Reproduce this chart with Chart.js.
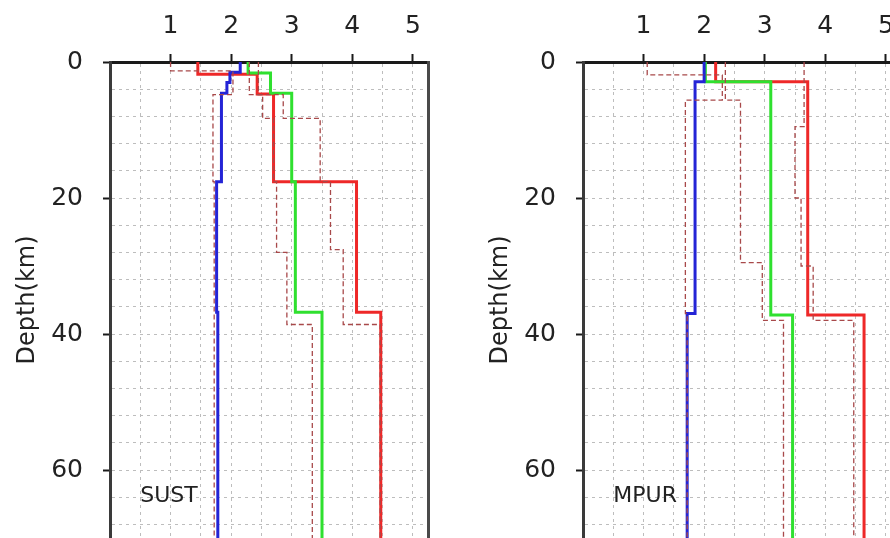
<!DOCTYPE html>
<html>
<head>
<meta charset="utf-8">
<script src="https://cdn.jsdelivr.net/npm/chart.js@4.4.1/dist/chart.umd.min.js"></script>
<style>
  html, body { margin: 0; padding: 0; background: #fff; }
  body { width: 890px; height: 538px; overflow: hidden; position: relative; }
  .panel { position: absolute; top: 0; width: 445px; height: 538px; }
</style>
</head>
<body>
<div class="panel" style="left:0"><canvas id="sust"></canvas></div>
<div class="panel" style="left:473px"><canvas id="mpur"></canvas></div>
<script>
// Velocity-depth profiles (km/s vs km)

const depthMax = 70;
const velMax = 5.25;
const xTickValues = [0, 0.5, 1, 1.5, 2, 2.5, 3, 3.5, 4, 4.5, 5];
const xTickLabels = [1, 2, 3, 4, 5];
const yTickValues = [0, 4, 8, 12, 16, 20, 24, 28, 32, 36, 40, 44, 48, 52, 56, 60, 64, 68];
const yTickLabels = [0, 20, 40, 60];

// SUST - layer tops (km) and velocities (km/s)
const sustBlueTop = [0, 1.5, 3.0, 4.6, 17.6, 36.8];
const sustBlueVel = [2.15, 1.98, 1.93, 1.84, 1.76, 1.78];
const sustGreenTop = [0, 1.6, 4.6, 17.6, 36.8];
const sustGreenVel = [2.28, 2.65, 3.0, 3.06, 3.5];
const sustRedTop = [0, 1.8, 4.7, 17.6, 36.8];
const sustRedVel = [1.45, 2.43, 2.7, 4.07, 4.47];
const sustDash1Top = [0, 1.3, 4.8, 17.6];
const sustDash1Vel = [1.0, 2.03, 1.70, 1.72];
const sustDash2Top = [0, 4.8, 8.3, 17.6, 28.0, 38.6];
const sustDash2Vel = [2.3, 2.52, 2.7, 2.75, 2.92, 3.34];
const sustDash3Top = [0, 4.8, 8.3, 17.6, 27.6, 38.6];
const sustDash3Vel = [2.45, 2.86, 3.47, 3.64, 3.85, 4.46];

// MPUR
const mpurBlueTop = [0, 2.9, 37.0];
const mpurBlueVel = [2.0, 1.85, 1.72];
const mpurGreenTop = [0, 2.9, 37.2];
const mpurGreenVel = [2.02, 3.1, 3.46];
const mpurRedTop = [0, 2.9, 37.2];
const mpurRedVel = [2.19, 3.71, 4.64];
const mpurDash1Top = [0, 1.9, 5.6, 37.0];
const mpurDash1Vel = [1.06, 2.3, 1.69, 1.72];
const mpurDash2Top = [0, 5.6, 29.5, 38.0];
const mpurDash2Vel = [2.35, 2.6, 2.96, 3.31];
const mpurDash3Top = [0, 9.5, 20.0, 30.0, 38.0];
const mpurDash3Vel = [3.65, 3.5, 3.6, 3.8, 4.47];

const COLORS = {
    blue: '#2424d6',
    green: '#2fe02f',
    red: '#ee2828',
    dash: '#a8494a',
    grid: '#bdbdbd',
    axis: '#1a1a1a',
    text: '#222'
};
const FONT = "'DejaVu Sans', sans-serif";

// layer tops + velocities -> step points down to depthMax
function profile(tops, vels) {
    const pts = tops.map((d, i) => ({ x: vels[i], y: d }));
    pts.push({ x: vels[vels.length - 1], y: depthMax });
    return pts;
}

function solid(tops, vels, color) {
    return {
        data: profile(tops, vels),
        borderColor: color,
        borderWidth: 3,
        stepped: 'after',
        pointRadius: 0,
        fill: false
    };
}

function dashed(tops, vels) {
    return {
        data: profile(tops, vels),
        borderColor: COLORS.dash,
        borderWidth: 1.3,
        borderDash: [5, 3],
        stepped: 'after',
        pointRadius: 0,
        fill: false
    };
}

// station name written at a data position
const stationLabel = {
    id: 'stationLabel',
    afterDatasetsDraw(chart, args, opts) {
        const { ctx, scales } = chart;
        ctx.save();
        ctx.font = '22px ' + FONT;
        ctx.fillStyle = COLORS.text;
        ctx.textAlign = 'left';
        ctx.textBaseline = 'middle';
        ctx.fillText(opts.text, scales.x.getPixelForValue(opts.vel), scales.y.getPixelForValue(opts.depth));
        ctx.restore();
    }
};

function makeChart(canvasId, datasets, name) {
    return new Chart(document.getElementById(canvasId), {
        type: 'line',
        data: { datasets: datasets },
        plugins: [stationLabel],
        options: {
            responsive: true,
            maintainAspectRatio: false,
            animation: false,
            layout: { padding: 0 },
            plugins: {
                legend: { display: false },
                tooltip: { enabled: false },
                stationLabel: { text: name, vel: 0.5, depth: 63.9 }
            },
            scales: {
                x: {
                    type: 'linear',
                    position: 'top',
                    min: 0,
                    max: velMax,
                    afterBuildTicks: s => { s.ticks = xTickValues.map(v => ({ value: v })); },
                    afterFit: s => { s.height = 62; s.paddingLeft = 0; s.paddingRight = 0; },
                    ticks: {
                        autoSkip: false,
                        maxRotation: 0,
                        padding: 13,
                        color: COLORS.text,
                        font: { family: FONT, size: 25 },
                        callback: v => xTickLabels.includes(v) ? String(v) : ''
                    },
                    grid: {
                        color: COLORS.grid,
                        lineWidth: 1,
                        tickLength: 8,
                        tickWidth: 2,
                        tickColor: c => xTickLabels.includes(c.tick && c.tick.value) ? COLORS.axis : 'rgba(0,0,0,0)'
                    },
                    border: { color: COLORS.axis, width: 3, dash: [3, 4] }
                },
                y: {
                    type: 'linear',
                    position: 'left',
                    reverse: true,
                    min: 0,
                    max: depthMax,
                    afterBuildTicks: s => { s.ticks = yTickValues.map(v => ({ value: v })); },
                    afterFit: s => { s.width = 110; s.paddingTop = 0; s.paddingBottom = 0; },
                    ticks: {
                        autoSkip: false,
                        padding: 20,
                        color: COLORS.text,
                        font: { family: FONT, size: 25 },
                        callback: v => yTickLabels.includes(v) ? String(v) : ''
                    },
                    grid: {
                        color: COLORS.grid,
                        lineWidth: 1,
                        tickLength: 7,
                        tickWidth: 2,
                        tickColor: c => yTickLabels.includes(c.tick && c.tick.value) ? COLORS.axis : 'rgba(0,0,0,0)'
                    },
                    border: { color: '#3a3a3a', width: 3, dash: [3, 4] },
                    title: {
                        display: true,
                        text: 'Depth(km)',
                        color: COLORS.text,
                        font: { family: FONT, size: 24 },
                        padding: { top: 13, bottom: 0 }
                    }
                },
                yRight: {
                    type: 'linear',
                    position: 'right',
                    reverse: true,
                    min: 0,
                    max: depthMax,
                    afterFit: s => { s.width = 17; s.paddingTop = 0; s.paddingBottom = 0; },
                    ticks: { display: false },
                    grid: { display: false, drawTicks: false },
                    border: { color: '#4a4a4a', width: 3 }
                }
            }
        }
    });
}

makeChart('sust', [
    dashed(sustDash1Top, sustDash1Vel),
    dashed(sustDash2Top, sustDash2Vel),
    dashed(sustDash3Top, sustDash3Vel),
    solid(sustBlueTop, sustBlueVel, COLORS.blue),
    solid(sustGreenTop, sustGreenVel, COLORS.green),
    solid(sustRedTop, sustRedVel, COLORS.red)
], 'SUST');

makeChart('mpur', [
    dashed(mpurDash1Top, mpurDash1Vel),
    dashed(mpurDash2Top, mpurDash2Vel),
    dashed(mpurDash3Top, mpurDash3Vel),
    solid(mpurBlueTop, mpurBlueVel, COLORS.blue),
    solid(mpurGreenTop, mpurGreenVel, COLORS.green),
    solid(mpurRedTop, mpurRedVel, COLORS.red)
], 'MPUR');
</script>
</body>
</html>
